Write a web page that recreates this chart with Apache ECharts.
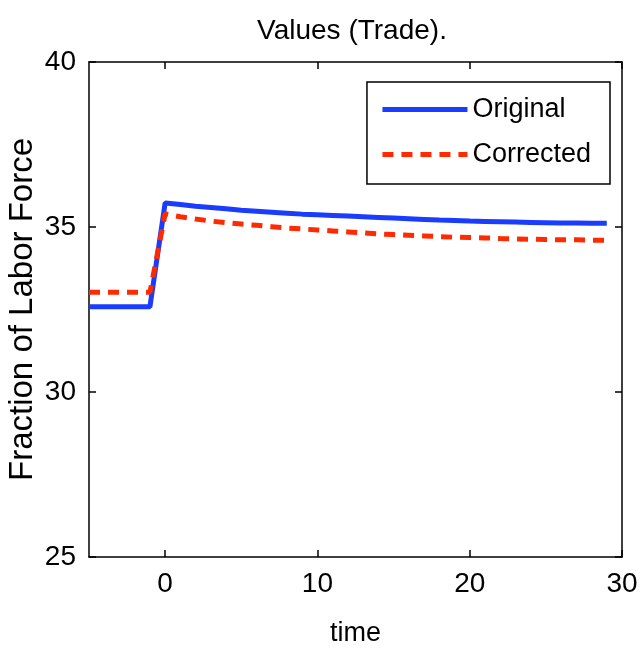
<!DOCTYPE html>
<html><head><meta charset="utf-8">
<script src="https://cdn.jsdelivr.net/npm/echarts@6/dist/echarts.min.js"></script>
<style>html,body{margin:0;padding:0;background:#fff}#c{width:640px;height:655px}</style>
</head><body><div id="c"></div>
<script>
const times = [-5,-4,-3,-2,-1,0,1,2,3,4,5,6,7,8,9,10,11,12,13,14,15,16,17,18,19,20,21,22,23,24,25,26,27,28,29];
const original = [32.58,32.58,32.58,32.58,32.58,35.73,35.68,35.63,35.59,35.55,35.51,35.48,35.45,35.42,35.39,35.37,35.35,35.33,35.31,35.29,35.27,35.25,35.23,35.21,35.20,35.18,35.17,35.16,35.15,35.14,35.13,35.12,35.12,35.11,35.11];
const corrected = [33.02,33.02,33.02,33.02,33.02,35.40,35.31,35.24,35.18,35.13,35.09,35.05,35.01,34.97,34.94,34.91,34.88,34.85,34.82,34.79,34.77,34.75,34.73,34.71,34.69,34.68,34.67,34.65,34.64,34.63,34.62,34.61,34.61,34.60,34.60];
const xTicks = [0,10,20,30];
const yTicks = [25,30,35,40];
const seriesNames = ['Original','Corrected'];
const titleText = 'Values (Trade).';
const xName = 'time';
const yName = 'Fraction of Labor Force';

const font = 'Liberation Sans, Arial, Helvetica, sans-serif';
const blue = '#1a3cff', red = '#ff2a00';
const chart = echarts.init(document.getElementById('c'));
const axisLine = {show:true, onZero:false, lineStyle:{color:'#000', width:1.5}};
chart.setOption({
  animation:false,
  title:{text:titleText, left:347, top:12, textAlign:'center', textStyle:{fontFamily:font, fontSize:28, fontWeight:'normal', color:'#000'}},
  grid:{left:89, right:18, top:62, bottom:98, show:false, outerBoundsMode:'none', containLabel:false},
  legend:{
    data:[
      {name:seriesNames[0], lineStyle:{width:5, color:blue, type:'solid'}},
      {name:seriesNames[1], lineStyle:{width:5, color:red, type:[11,8]}}
    ],
    orient:'vertical', right:30, top:82,
    itemWidth:85, itemHeight:20, itemGap:18,
    padding:[14,19,16,13],
    itemStyle:{opacity:0},
    borderColor:'#000', borderWidth:1.5, backgroundColor:'#fff', borderRadius:0,
    textStyle:{fontFamily:font, fontSize:27, color:'#000'}
  },
  xAxis:[{
    type:'value', min:-5, max:30,
    name:xName, nameLocation:'middle', nameGap:63, nameMoveOverlap:false,
    nameTextStyle:{fontFamily:font, fontSize:27, color:'#000'},
    axisLine:axisLine,
    axisTick:{show:true, inside:true, length:7, customValues:xTicks, lineStyle:{color:'#000',width:1.5}},
    axisLabel:{show:true, customValues:xTicks, margin:13, fontFamily:font, fontSize:28, color:'#000'},
    splitLine:{show:false}
  },{
    type:'value', min:-5, max:30, position:'top',
    axisLine:axisLine,
    axisTick:{show:true, inside:true, length:7, customValues:xTicks, lineStyle:{color:'#000',width:1.5}},
    axisLabel:{show:false}, splitLine:{show:false}
  }],
  yAxis:[{
    type:'value', min:25, max:40, interval:5,
    name:yName, nameLocation:'middle', nameGap:50, nameMoveOverlap:false,
    nameTextStyle:{fontFamily:font, fontSize:33, color:'#000'},
    axisLine:axisLine,
    axisTick:{show:true, inside:true, length:7, lineStyle:{color:'#000',width:1.5}},
    axisLabel:{margin:13, fontFamily:font, fontSize:28, color:'#000'},
    splitLine:{show:false}
  },{
    type:'value', min:25, max:40, interval:5, position:'right',
    axisLine:axisLine,
    axisTick:{show:true, inside:true, length:7, lineStyle:{color:'#000',width:1.5}},
    axisLabel:{show:false}, splitLine:{show:false}
  }],
  series:[{
    name:seriesNames[0], type:'line', symbol:'none',
    data:times.map((t,i)=>[t,original[i]]),
    lineStyle:{color:blue, width:5}, itemStyle:{color:blue}
  },{
    name:seriesNames[1], type:'line', symbol:'none',
    data:times.map((t,i)=>[t,corrected[i]]),
    lineStyle:{color:red, width:5, type:[11,8]}, itemStyle:{color:red}
  }]
});
</script></body></html>
